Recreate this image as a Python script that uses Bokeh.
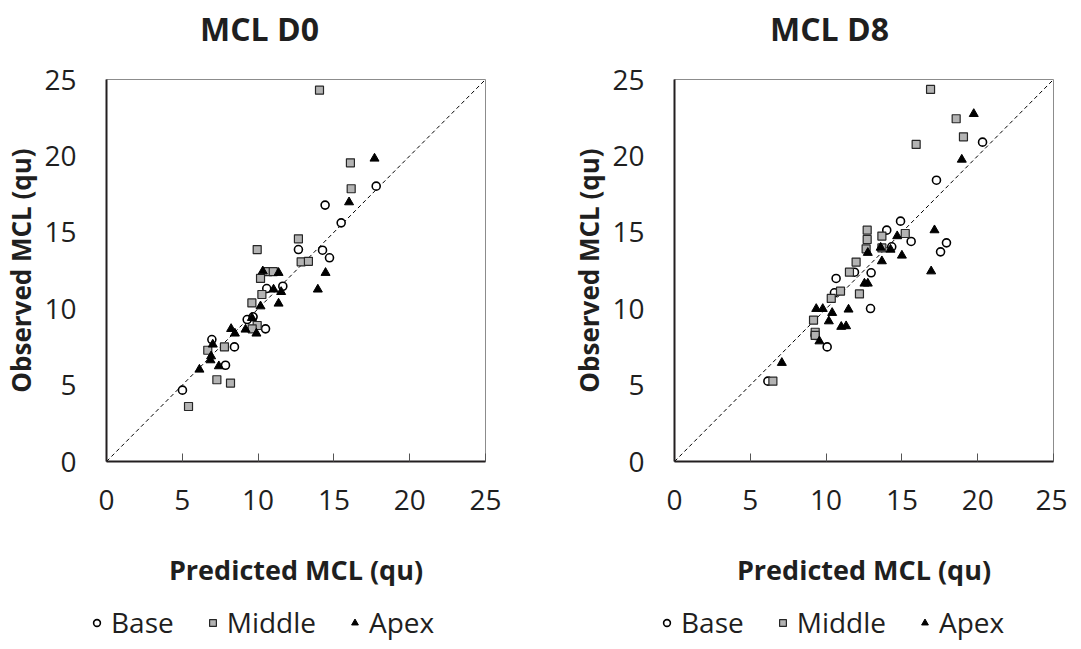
from bokeh.plotting import figure
from bokeh.layouts import row, column
from bokeh.models import Legend, LegendItem, FixedTicker, Range1d, Label
from bokeh.embed import file_html
from bokeh.resources import INLINE

TICKS = [0, 5, 10, 15, 20, 25]
DIAG = [0, 25]
SERIES = ["Base", "Middle", "Apex"]
TITLES = ["MCL D0", "MCL D8"]

# ---- MCL D0 ----
d0_base_x = [12.66, 14.25, 14.71, 11.63, 10.57, 9.28, 10.49, 6.95, 8.44, 7.85, 5.01, 17.79, 14.42, 15.48, 9.67]
d0_base_y = [13.87, 13.83, 13.33, 11.47, 11.32, 9.29, 8.68, 7.98, 7.50, 6.30, 4.67, 18.02, 16.78, 15.62, 9.47]
d0_mid_x = [12.66, 9.94, 12.84, 13.32, 10.64, 11.00, 10.16, 10.25, 9.59, 9.94, 9.61, 7.78, 6.68, 7.28, 8.18, 5.41, 14.05, 16.09, 16.14]
d0_mid_y = [14.57, 13.87, 13.07, 13.10, 12.43, 12.43, 11.98, 10.93, 10.38, 8.90, 8.68, 7.50, 7.28, 5.35, 5.13, 3.60, 24.30, 19.55, 17.85]
d0_apex_x = [10.31, 11.35, 14.45, 13.94, 11.02, 11.52, 11.35, 10.16, 9.59, 9.17, 8.22, 8.47, 9.89, 7.01, 6.90, 6.86, 7.41, 6.13, 17.68, 16.00]
d0_apex_y = [12.45, 12.35, 12.35, 11.26, 11.26, 11.10, 10.34, 10.16, 9.40, 8.64, 8.68, 8.38, 8.38, 7.66, 6.89, 6.63, 6.24, 6.02, 19.83, 16.97]

# ---- MCL D8 ----
d8_base_x = [20.32, 17.28, 14.91, 14.00, 15.61, 17.94, 17.55, 14.33, 12.97, 11.87, 10.66, 10.55, 12.93, 10.07, 6.16, 9.28]
d8_base_y = [20.90, 18.41, 15.73, 15.14, 14.40, 14.31, 13.72, 14.05, 12.35, 12.39, 11.98, 11.04, 10.01, 7.50, 5.26, 8.25]
d8_mid_x = [16.89, 18.58, 19.06, 15.94, 15.22, 12.71, 12.71, 13.68, 13.68, 12.64, 11.98, 12.20, 11.54, 10.95, 10.34, 9.17, 9.28, 9.28, 6.49]
d8_mid_y = [24.35, 22.43, 21.25, 20.75, 14.92, 15.14, 14.53, 14.75, 13.98, 13.92, 13.05, 10.97, 12.39, 11.15, 10.67, 9.25, 8.46, 8.25, 5.26]
d8_apex_x = [19.74, 18.95, 17.15, 14.69, 14.25, 12.75, 15.00, 13.68, 16.93, 12.53, 12.75, 9.35, 9.78, 10.40, 11.48, 10.18, 11.00, 11.32, 9.56, 7.08, 13.60]
d8_apex_y = [22.75, 19.76, 15.14, 14.75, 13.87, 13.66, 13.48, 13.11, 12.45, 11.65, 11.65, 9.99, 9.99, 9.73, 9.95, 9.18, 8.82, 8.86, 7.87, 6.46, 14.00]

FONT = "Open Sans"
TXT = "#1f1f1f"
STYLES = [dict(marker="circle", fill_color="white", line_color="black", line_width=1.6),
          dict(marker="square", fill_color="#b3b3b3", line_color="#262626", line_width=1.2),
          dict(marker="triangle", fill_color="black", line_color="black", line_width=1)]
SIZES = [8, 8, 9]


def blank_fig(width, height, y_range):
    f = figure(width=width, height=height, output_backend="svg", toolbar_location=None,
               x_range=Range1d(0, 25), y_range=y_range,
               x_axis_location=None, y_axis_location=None, min_border=0)
    f.outline_line_color = None
    f.grid.visible = False
    f.background_fill_color = "white"
    f.border_fill_color = "white"
    return f


def title_fig(width, text, cx):
    f = blank_fig(width, 50, Range1d(0, 1))
    f.add_layout(Label(x=cx, y=22, x_units="screen", y_units="screen", text=text,
                       text_font=FONT, text_font_size="32px", text_font_style="bold",
                       text_color=TXT, text_align="center", text_baseline="middle"))
    return f


def panel(xs, ys, bl, br):
    p = figure(frame_width=379, frame_height=382, output_backend="svg",
               toolbar_location=None, x_range=Range1d(0, 25), y_range=Range1d(0, 25),
               min_border_left=bl, min_border_right=br, min_border_top=29,
               min_border_bottom=126)
    p.background_fill_color = "white"
    p.border_fill_color = "white"
    p.outline_line_color = "#8c8c8c"
    p.outline_line_width = 1
    p.grid.visible = False

    for ax_ in (p.xaxis[0], p.yaxis[0]):
        ax_.ticker = FixedTicker(ticks=TICKS)
        ax_.axis_line_color = "#231f20"
        ax_.axis_line_width = 2
        ax_.major_label_text_font = FONT
        ax_.major_label_text_font_size = "28px"
        ax_.major_label_text_color = TXT
        ax_.axis_label_text_font = FONT
        ax_.axis_label_text_font_size = "26px"
        ax_.axis_label_text_font_style = "bold"
        ax_.axis_label_text_color = TXT
        ax_.minor_tick_line_color = None
        ax_.major_tick_out = 0
        ax_.major_tick_in = 8
        ax_.major_tick_line_color = "#555555"
    p.yaxis.major_tick_line_color = None
    p.xaxis.axis_label = "Predicted MCL (qu)"
    p.yaxis.axis_label = "Observed MCL (qu)"
    p.xaxis.axis_label_text_font_size = "27px"
    p.xaxis.major_label_standoff = 28
    p.xaxis.axis_label_standoff = 38
    p.yaxis.major_label_standoff = 30
    p.yaxis.axis_label_standoff = 2

    p.line(DIAG, DIAG, line_color="black", line_width=1, line_dash="4 3")
    for x, y, st, sz in zip(xs, ys, STYLES, SIZES):
        p.scatter(x, y, size=sz, **st)
    return p


def legend_fig(width, leg_x, xs, ys):
    # series are drawn out of view; only their legend entries show
    f = blank_fig(width, 52, Range1d(-100, -90))
    items = []
    for name, st, x, y in zip(SERIES, STYLES, xs, ys):
        r = f.scatter(x, y, size=8, **st)
        items.append(LegendItem(label=name, renderers=[r]))
    leg = Legend(items=items, orientation="horizontal", location=(leg_x, 1))
    leg.border_line_color = None
    leg.background_fill_alpha = 0
    leg.label_text_font = FONT
    leg.label_text_font_size = "28px"
    leg.label_text_color = TXT
    leg.glyph_width = 17
    leg.glyph_height = 17
    leg.label_standoff = 6
    leg.spacing = 30
    leg.padding = 0
    leg.margin = 0
    f.add_layout(leg, "center")
    return f


x0 = [d0_base_x, d0_mid_x, d0_apex_x]
y0 = [d0_base_y, d0_mid_y, d0_apex_y]
x8 = [d8_base_x, d8_mid_x, d8_apex_x]
y8 = [d8_base_y, d8_mid_y, d8_apex_y]

t1 = title_fig(560, TITLES[0], 259)
t2 = title_fig(505, TITLES[1], 269)
p1 = panel(x0, y0, 104, 77)
p2 = panel(x8, y8, 112, 14)
l1 = legend_fig(560, 88, x0, y0)
l2 = legend_fig(505, 98, x8, y8)

layout = column(row(t1, t2), row(p1, p2), row(l1, l2))
open("out.html", "w").write(file_html(layout, INLINE))
